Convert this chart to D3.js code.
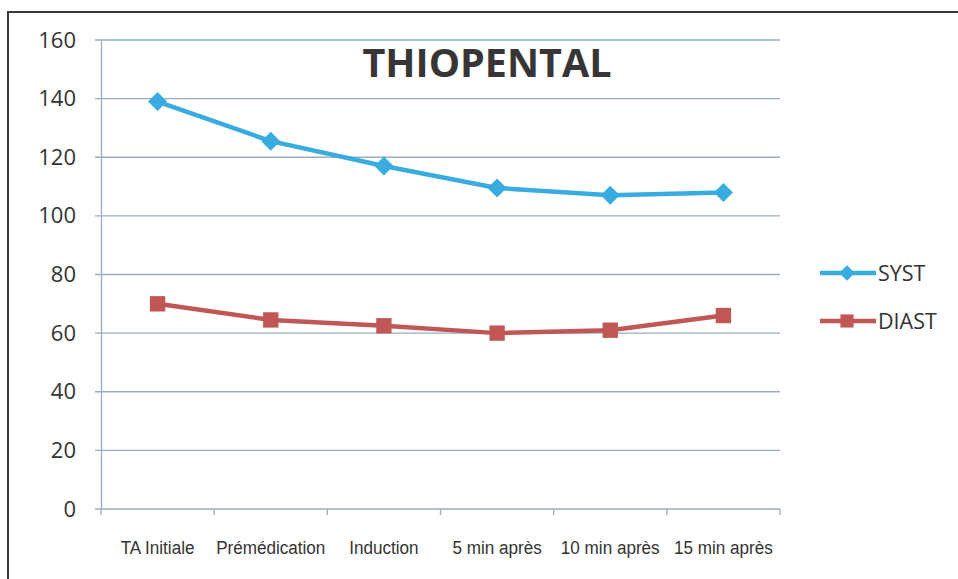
<!DOCTYPE html>
<html>
<head>
<meta charset="utf-8">
<script src="https://cdn.jsdelivr.net/npm/d3@7"></script>
<style>
  body { margin: 0; background: #fff; }
  svg { display: block; }
</style>
</head>
<body>
<div id="chart"></div>
<script>
// data
var categories = ["TA Initiale", "Prémédication", "Induction", "5 min après", "10 min après", "15 min après"];
var syst = [139, 125.5, 117, 109.5, 107, 108];
var diast = [70, 64.5, 62.5, 60, 61, 66];
var yTicks = [0, 20, 40, 60, 80, 100, 120, 140, 160];
var seriesNames = ["SYST", "DIAST"];
var seriesColors = ["#38ace0", "#c05755"];

var W = 958, H = 579;
var margin = { top: 40, left: 101, right: 178, bottom: 70 };

var svg = d3.select("#chart").append("svg")
  .attr("width", W)
  .attr("height", H);

// outer frame
svg.append("rect")
  .attr("x", 8).attr("y", 12)
  .attr("width", W + 10).attr("height", H + 10)
  .attr("fill", "none")
  .attr("stroke", "#3a3a3a")
  .attr("stroke-width", 2);

var xScale = d3.scaleBand()
  .domain(categories)
  .range([margin.left, W - margin.right]);

var yScale = d3.scaleLinear()
  .domain([0, 160])
  .range([H - margin.bottom, margin.top]);

// gridlines
svg.append("g")
  .attr("class", "grid")
  .selectAll("line")
  .data(yTicks)
  .enter()
  .append("line")
  .attr("x1", margin.left - 6)
  .attr("x2", W - margin.right)
  .attr("y1", function(d) { return yScale(d); })
  .attr("y2", function(d) { return yScale(d); })
  .attr("stroke", "#98adc0")
  .attr("stroke-width", 1.3);

// y axis
var yAxis = d3.axisLeft(yScale).tickValues(yTicks).tickSize(0).tickPadding(25);
var gy = svg.append("g")
  .attr("transform", "translate(" + margin.left + ",0)")
  .call(yAxis);
gy.select(".domain").attr("stroke", "#98adc0").attr("stroke-width", 1.3);
gy.selectAll("text")
  .attr("font-family", "Open Sans")
  .attr("font-size", 22)
  .attr("fill", "#333");

// x axis (labels squeezed a bit, like the narrow font of the original)
var xAxis = d3.axisBottom(xScale).tickSize(0).tickPadding(32);
var gx = svg.append("g")
  .attr("transform", "translate(0," + yScale(0) + ")")
  .call(xAxis);
gx.select(".domain").remove();
gx.selectAll("text")
  .attr("font-family", "Liberation Sans")
  .attr("font-size", 19)
  .attr("transform", "scale(0.9,1)")
  .attr("fill", "#333");

// tick marks on the category boundaries
var bounds = categories.map(function(c) { return xScale(c); });
bounds.push(xScale(categories[categories.length - 1]) + xScale.bandwidth());
svg.append("g")
  .selectAll("line")
  .data(bounds)
  .enter()
  .append("line")
  .attr("x1", function(d) { return d; })
  .attr("x2", function(d) { return d; })
  .attr("y1", yScale(0))
  .attr("y2", yScale(0) + 6)
  .attr("stroke", "#98adc0")
  .attr("stroke-width", 1.3);

// title
svg.append("text")
  .attr("x", 487)
  .attr("y", 77)
  .attr("text-anchor", "middle")
  .attr("font-family", "Open Sans")
  .attr("font-weight", "bold")
  .attr("font-size", 39.5)
  .attr("fill", "#383536")
  .text("THIOPENTAL");

var line = d3.line()
  .x(function(d, i) { return xScale(categories[i]) + xScale.bandwidth() / 2; })
  .y(function(d) { return yScale(d); });

var diamond = d3.symbol().type(d3.symbolDiamond2).size(230);
var square = d3.symbol().type(d3.symbolSquare2).size(300);

function drawSeries(values, color, sym) {
  var g = svg.append("g");
  g.append("path")
    .datum(values)
    .attr("fill", "none")
    .attr("stroke", color)
    .attr("stroke-width", 4.5)
    .attr("stroke-linejoin", "round")
    .attr("d", line);
  g.selectAll(".pt")
    .data(values)
    .enter()
    .append("path")
    .attr("class", "pt")
    .attr("transform", function(d, i) {
      return "translate(" + (xScale(categories[i]) + xScale.bandwidth() / 2) + "," + yScale(d) + ")";
    })
    .attr("d", sym)
    .attr("fill", color);
}

drawSeries(syst, seriesColors[0], diamond);
drawSeries(diast, seriesColors[1], square);

// legend
var legend = svg.append("g");
var legendSyms = [d3.symbol().type(d3.symbolDiamond2).size(150), d3.symbol().type(d3.symbolSquare2).size(220)];
seriesNames.forEach(function(name, i) {
  var ly = 273 + i * 48;
  legend.append("line")
    .attr("x1", 820).attr("x2", 876)
    .attr("y1", ly).attr("y2", ly)
    .attr("stroke", seriesColors[i])
    .attr("stroke-width", 4.5);
  legend.append("path")
    .attr("transform", "translate(847," + ly + ")")
    .attr("d", legendSyms[i])
    .attr("fill", seriesColors[i]);
  legend.append("text")
    .attr("x", 878)
    .attr("y", ly + 8)
    .attr("font-family", "Open Sans")
    .attr("font-size", 21.5)
    .attr("fill", "#333")
    .text(name);
});
</script>
</body>
</html>
